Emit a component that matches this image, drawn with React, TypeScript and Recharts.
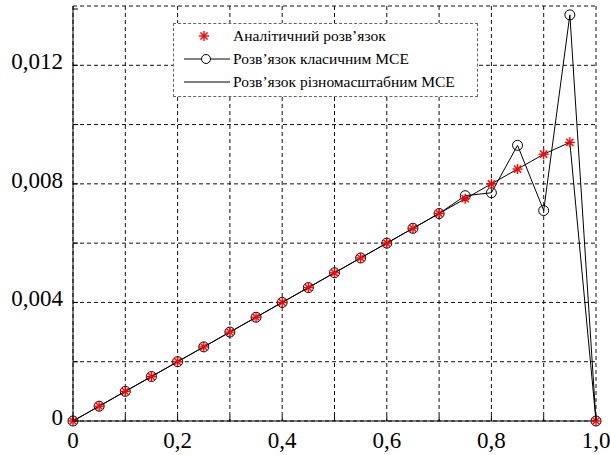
import React from "react";
import { ComposedChart, Line, XAxis, YAxis, CartesianGrid } from "recharts";

const xs = [0, 0.05, 0.1, 0.15, 0.2, 0.25, 0.3, 0.35, 0.4, 0.45, 0.5, 0.55, 0.6, 0.65, 0.7, 0.75, 0.8, 0.85, 0.9, 0.95, 1.0];
const analytic = [0, 0.0005, 0.001, 0.0015, 0.002, 0.0025, 0.003, 0.0035, 0.004, 0.0045, 0.005, 0.0055, 0.006, 0.0065, 0.007, 0.0075, 0.008, 0.0085, 0.009, 0.0094, 0];
const classic = [0, 0.0005, 0.001, 0.0015, 0.002, 0.0025, 0.003, 0.0035, 0.004, 0.0045, 0.005, 0.0055, 0.006, 0.0065, 0.007, 0.0076, 0.0077, 0.0093, 0.0071, 0.0137, 0];
const multiscale = [0, 0.0005, 0.001, 0.0015, 0.002, 0.0025, 0.003, 0.0035, 0.004, 0.0045, 0.005, 0.0055, 0.006, 0.0065, 0.007, 0.0075, 0.008, 0.0085, 0.009, 0.0094, 0];

const xTicks = [0, 0.1, 0.2, 0.3, 0.4, 0.5, 0.6, 0.7, 0.8, 0.9, 1.0];
const xTickLabels = ["0", "", "0,2", "", "0,4", "", "0,6", "", "0,8", "", "1,0"];
const yTicks = [0, 0.002, 0.004, 0.006, 0.008, 0.01, 0.012, 0.014];
const yTickLabels = ["0", "", "0,004", "", "0,008", "", "0,012", ""];

const seriesNames = [
  "Аналітичний розв’язок",
  "Розв’язок класичним МСЕ",
  "Розв’язок різномасштабним МСЕ",
];

const data = xs.map((x, i) => ({
  x,
  analytic: analytic[i],
  classic: classic[i],
  multiscale: multiscale[i],
}));

const font = "'Liberation Serif', 'Times New Roman', serif";

const Star = ({ cx, cy }: { cx: number; cy: number }) => {
  const r = 5;
  const d = r * 0.72;
  return (
    <g stroke="#ff0000" strokeWidth={1.4}>
      <line x1={cx - r} y1={cy} x2={cx + r} y2={cy} />
      <line x1={cx} y1={cy - r} x2={cx} y2={cy + r} />
      <line x1={cx - d} y1={cy - d} x2={cx + d} y2={cy + d} />
      <line x1={cx - d} y1={cy + d} x2={cx + d} y2={cy - d} />
    </g>
  );
};

// ticks point inward, labels drawn by hand
const XTick = (p: any) => {
  const { x, index } = p;
  const axisY = 421;
  return (
    <g>
      <line x1={x} y1={axisY} x2={x} y2={axisY - 5} stroke="#000" />
      <text x={x} y={448} textAnchor="middle" fontFamily={font} fontSize={23} fill="#000">
        {xTickLabels[index]}
      </text>
    </g>
  );
};

const YTick = (p: any) => {
  const { y, index } = p;
  const axisX = 73;
  return (
    <g>
      <line x1={axisX} y1={y} x2={axisX + 5} y2={y} stroke="#000" />
      <text x={63} y={y + 4} textAnchor="end" fontFamily={font} fontSize={23} fill="#000">
        {yTickLabels[index]}
      </text>
    </g>
  );
};

const LegendBox = () => (
  <div
    style={{
      position: "absolute",
      left: 173,
      top: 23,
      width: 303,
      height: 72,
      border: "1px dashed #666",
      background: "#fff",
      fontFamily: font,
      fontSize: 15.5,
      color: "#000",
    }}
  >
    {seriesNames.map((name, i) => (
      <div
        key={name}
        style={{ position: "absolute", left: 8, top: 2 + i * 23, height: 20, display: "flex", alignItems: "center" }}
      >
        <svg width={50} height={20}>
          {i === 0 && <Star cx={22} cy={10} />}
          {i > 0 && <line x1={2} y1={10} x2={48} y2={10} stroke="#000" strokeWidth={1} />}
          {i === 1 && <circle cx={24} cy={10} r={4.5} fill="#fff" stroke="#000" />}
        </svg>
        <span style={{ marginLeft: 1 }}>{name}</span>
      </div>
    ))}
  </div>
);

export default function App() {
  return (
    <div style={{ position: "absolute", left: 0, top: 0, width: 610, height: 455, background: "#fff" }}>
      <ComposedChart
        width={610}
        height={455}
        data={data}
        margin={{ top: 6, right: 14, bottom: 0, left: 0 }}
      >
        <CartesianGrid stroke="#111" strokeDasharray="4 3" />
        <XAxis
          dataKey="x"
          type="number"
          domain={[0, 1]}
          ticks={xTicks}
          height={34}
          axisLine={{ stroke: "#000" }}
          tickLine={false}
          tick={<XTick />}
        />
        <YAxis
          type="number"
          domain={[0, 0.014]}
          ticks={yTicks}
          width={73}
          axisLine={{ stroke: "#000" }}
          tickLine={false}
          tick={<YTick />}
        />
        <Line
          dataKey="multiscale"
          stroke="#000"
          strokeWidth={1}
          dot={false}
          isAnimationActive={false}
        />
        <Line
          dataKey="classic"
          stroke="#000"
          strokeWidth={1}
          dot={{ r: 5, stroke: "#000", strokeWidth: 1, fill: "none" }}
          isAnimationActive={false}
        />
        <Line
          dataKey="analytic"
          stroke="none"
          dot={(p: any) => <Star key={`s-${p.index}`} cx={p.cx} cy={p.cy} />}
          isAnimationActive={false}
        />
      </ComposedChart>
      <LegendBox />
    </div>
  );
}
